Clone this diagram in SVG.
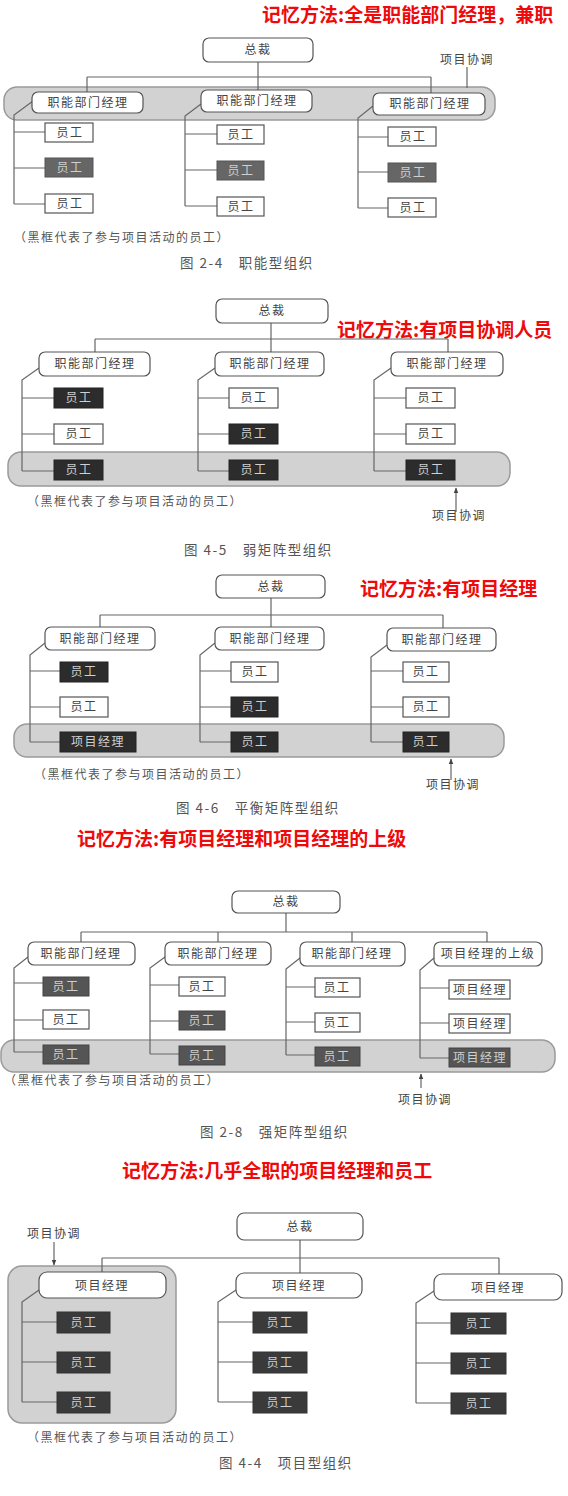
<svg xmlns="http://www.w3.org/2000/svg" width="568" height="1496" viewBox="0 0 568 1496">
<defs>
<style>
text{font-family:"Noto Sans CJK SC","Noto Sans",sans-serif;}
.lb{font-size:12px;fill:#444;text-anchor:middle;letter-spacing:1.5px;}
.lw{font-size:12px;fill:#d0d0d0;text-anchor:middle;letter-spacing:1.5px;}
.note{font-size:12px;fill:#555;letter-spacing:1.5px;}
.cap{font-size:13.5px;fill:#555;letter-spacing:1.5px;}
.red{font-size:19px;font-weight:bold;fill:#ee0a0a;}
.mg{fill:#fff;stroke:#555;stroke-width:1.2;}
.wb{fill:#fff;stroke:#555;stroke-width:1.2;}
.d1{fill:#666;stroke:#555;}
.d2{fill:#2c2c2c;stroke:#222;}
.d4{fill:#555;stroke:#444;}
.d5{fill:#3a3a3a;stroke:#333;}
.band{fill:#d2d2d2;stroke:#9a9a9a;stroke-width:1.5;}
.cn{fill:none;stroke:#666;stroke-width:1.2;}
</style>
<marker id="ah" viewBox="0 0 10 10" refX="9" refY="5" markerWidth="6" markerHeight="8" orient="auto" markerUnits="userSpaceOnUse">
<path d="M0,1 L10,5 L0,9 z" fill="#444"/>
</marker>
</defs>
<rect width="568" height="1496" fill="#fff"/>

<!-- ===== Diagram 1 ===== -->
<text class="red" x="262" y="22">记忆方法:全是职能部门经理，兼职</text>
<rect class="band" x="4" y="87" width="491" height="33" rx="13"/>
<g id="d1-connectors">
<path class="cn" d="M258 62 V90 M87 77 H431 M87 77 V92 M431 77 V93 M467 67 V88"/>
<path class="cn" d="M33 101 L14 115 V204 M14 132 H45 M14 168 H45 M14 204 H45"/>
<path class="cn" d="M201 104 L185 116 V206 M185 134 H217 M185 170 H217 M185 206 H217"/>
<path class="cn" d="M373 106 L358 118 V208 M358 137 H388 M358 172 H388 M358 208 H388"/>
</g>
<g id="d1-ceo"><rect class="mg" x="203" y="38" width="110" height="24" rx="6"/><text class="lb" x="258" y="54">总裁</text></g>
<g id="d1-coord"><text class="lb" x="467" y="64">项目协调</text></g>
<g id="d1-m1"><rect class="mg" x="32" y="92" width="111" height="21" rx="6"/><text class="lb" x="88" y="107">职能部门经理</text></g>
<g id="d1-m2"><rect class="mg" x="201" y="90" width="111" height="22" rx="6"/><text class="lb" x="257" y="105">职能部门经理</text></g>
<g id="d1-m3"><rect class="mg" x="373" y="93" width="112" height="22" rx="6"/><text class="lb" x="430" y="108">职能部门经理</text></g>
<g id="d1-s11"><rect class="wb" x="45" y="123" width="48" height="19"/><text class="lb" x="70" y="137">员工</text></g>
<g id="d1-s12"><rect class="d1" x="45" y="158" width="48" height="19"/><text class="lw" x="70" y="172">员工</text></g>
<g id="d1-s13"><rect class="wb" x="45" y="194" width="48" height="19"/><text class="lb" x="70" y="208">员工</text></g>
<g id="d1-s21"><rect class="wb" x="217" y="125" width="47" height="19"/><text class="lb" x="241" y="139">员工</text></g>
<g id="d1-s22"><rect class="d1" x="217" y="161" width="47" height="19"/><text class="lw" x="241" y="175">员工</text></g>
<g id="d1-s23"><rect class="wb" x="217" y="197" width="47" height="19"/><text class="lb" x="241" y="211">员工</text></g>
<g id="d1-s31"><rect class="wb" x="388" y="127" width="48" height="19"/><text class="lb" x="413" y="141">员工</text></g>
<g id="d1-s32"><rect class="d1" x="388" y="163" width="48" height="19"/><text class="lw" x="413" y="177">员工</text></g>
<g id="d1-s33"><rect class="wb" x="388" y="198" width="48" height="19"/><text class="lb" x="413" y="212">员工</text></g>
<text class="note" x="14" y="242">（黑框代表了参与项目活动的员工）</text>
<text class="cap" x="180" y="268">图 2-4　职能型组织</text>

<!-- ===== Diagram 2 ===== -->
<text class="red" x="337" y="337">记忆方法:有项目协调人员</text>
<rect class="band" x="8" y="452" width="502" height="34" rx="13"/>
<g id="d2-connectors">
<path class="cn" d="M271 323 V352 M95 339 H448 M95 339 V352 M448 339 V352"/>
<path class="cn" d="M39 368 L22 380 V471 M22 398 H54 M22 434 H54 M22 471 H54"/>
<path class="cn" d="M215 368 L198 380 V471 M198 398 H229 M198 434 H229 M198 471 H229"/>
<path class="cn" d="M391 368 L374 380 V471 M374 398 H406 M374 434 H406 M374 471 H406"/>
<line class="cn" x1="456" y1="512" x2="456" y2="488" marker-end="url(#ah)"/>
</g>
<g id="d2-ceo"><rect class="mg" x="216" y="299" width="112" height="24" rx="6"/><text class="lb" x="272" y="315">总裁</text></g>
<g id="d2-m1"><rect class="mg" x="39" y="352" width="111" height="24" rx="6"/><text class="lb" x="95" y="368">职能部门经理</text></g>
<g id="d2-m2"><rect class="mg" x="215" y="352" width="109" height="24" rx="6"/><text class="lb" x="270" y="368">职能部门经理</text></g>
<g id="d2-m3"><rect class="mg" x="391" y="352" width="112" height="24" rx="6"/><text class="lb" x="447" y="368">职能部门经理</text></g>
<g id="d2-s11"><rect class="d2" x="54" y="388" width="49" height="20"/><text class="lw" x="79" y="402">员工</text></g>
<g id="d2-s12"><rect class="wb" x="54" y="424" width="49" height="20"/><text class="lb" x="79" y="438">员工</text></g>
<g id="d2-s13"><rect class="d2" x="54" y="460" width="49" height="20"/><text class="lw" x="79" y="474">员工</text></g>
<g id="d2-s21"><rect class="wb" x="229" y="388" width="49" height="20"/><text class="lb" x="254" y="402">员工</text></g>
<g id="d2-s22"><rect class="d2" x="229" y="424" width="49" height="20"/><text class="lw" x="254" y="438">员工</text></g>
<g id="d2-s23"><rect class="d2" x="229" y="460" width="49" height="20"/><text class="lw" x="254" y="474">员工</text></g>
<g id="d2-s31"><rect class="wb" x="406" y="388" width="49" height="20"/><text class="lb" x="431" y="402">员工</text></g>
<g id="d2-s32"><rect class="wb" x="406" y="424" width="49" height="20"/><text class="lb" x="431" y="438">员工</text></g>
<g id="d2-s33"><rect class="d2" x="406" y="460" width="49" height="20"/><text class="lw" x="431" y="474">员工</text></g>
<g id="d2-coord"><text class="lb" x="459" y="520">项目协调</text></g>
<text class="note" x="27" y="506">（黑框代表了参与项目活动的员工）</text>
<text class="cap" x="184" y="555">图 4-5　弱矩阵型组织</text>

<!-- ===== Diagram 3 ===== -->
<text class="red" x="360" y="596">记忆方法:有项目经理</text>
<rect class="band" x="14" y="724" width="490" height="33" rx="13"/>
<g id="d3-connectors">
<path class="cn" d="M271 598 V627 M100 615 H443 M100 615 V627 M443 615 V628"/>
<path class="cn" d="M45 643 L30 655 V742 M30 671 H60 M30 707 H60 M30 742 H60"/>
<path class="cn" d="M215 643 L200 655 V742 M200 671 H231 M200 707 H231 M200 742 H231"/>
<path class="cn" d="M387 645 L371 657 V742 M371 671 H403 M371 707 H403 M371 742 H403"/>
<line class="cn" x1="451" y1="780" x2="451" y2="759" marker-end="url(#ah)"/>
</g>
<g id="d3-ceo"><rect class="mg" x="216" y="575" width="109" height="23" rx="6"/><text class="lb" x="271" y="591">总裁</text></g>
<g id="d3-m1"><rect class="mg" x="45" y="627" width="110" height="23" rx="6"/><text class="lb" x="100" y="643">职能部门经理</text></g>
<g id="d3-m2"><rect class="mg" x="215" y="627" width="109" height="23" rx="6"/><text class="lb" x="270" y="643">职能部门经理</text></g>
<g id="d3-m3"><rect class="mg" x="387" y="628" width="109" height="23" rx="6"/><text class="lb" x="442" y="644">职能部门经理</text></g>
<g id="d3-s11"><rect class="d2" x="60" y="662" width="48" height="20"/><text class="lw" x="84" y="676">员工</text></g>
<g id="d3-s12"><rect class="wb" x="60" y="697" width="48" height="20"/><text class="lb" x="84" y="711">员工</text></g>
<g id="d3-s13"><rect class="d2" x="60" y="732" width="76" height="20"/><text class="lw" x="98" y="746">项目经理</text></g>
<g id="d3-s21"><rect class="wb" x="231" y="662" width="47" height="20"/><text class="lb" x="255" y="676">员工</text></g>
<g id="d3-s22"><rect class="d2" x="231" y="697" width="47" height="20"/><text class="lw" x="255" y="711">员工</text></g>
<g id="d3-s23"><rect class="d2" x="231" y="732" width="47" height="20"/><text class="lw" x="255" y="746">员工</text></g>
<g id="d3-s31"><rect class="wb" x="403" y="662" width="46" height="20"/><text class="lb" x="426" y="676">员工</text></g>
<g id="d3-s32"><rect class="wb" x="403" y="697" width="46" height="20"/><text class="lb" x="426" y="711">员工</text></g>
<g id="d3-s33"><rect class="d2" x="403" y="732" width="46" height="20"/><text class="lw" x="426" y="746">员工</text></g>
<g id="d3-coord"><text class="lb" x="453" y="789">项目协调</text></g>
<text class="note" x="34" y="779">（黑框代表了参与项目活动的员工）</text>
<text class="cap" x="176" y="813">图 4-6　平衡矩阵型组织</text>

<!-- ===== Diagram 4 ===== -->
<text class="red" x="77" y="846">记忆方法:有项目经理和项目经理的上级</text>
<rect class="band" x="1" y="1040" width="554" height="32" rx="13"/>
<g id="d4-connectors">
<path class="cn" d="M286 913 V932 M81 932 H487 M81 932 V942 M218 932 V942 M352 932 V942 M487 932 V942"/>
<path class="cn" d="M28 957 L14 968 V1052 M14 983 H43 M14 1020 H43 M14 1052 H43"/>
<path class="cn" d="M165 957 L150 968 V1054 M150 985 H179 M150 1021 H179 M150 1054 H179"/>
<path class="cn" d="M300 958 L286 969 V1055 M286 987 H315 M286 1022 H315 M286 1055 H315"/>
<path class="cn" d="M434 958 L420 970 V1058 M420 988 H449 M420 1023 H449 M420 1058 H449"/>
<line class="cn" x1="421" y1="1088" x2="421" y2="1074" marker-end="url(#ah)"/>
</g>
<g id="d4-ceo"><rect class="mg" x="232" y="891" width="108" height="22" rx="6"/><text class="lb" x="286" y="906">总裁</text></g>
<g id="d4-m1"><rect class="mg" x="28" y="942" width="107" height="23" rx="6"/><text class="lb" x="81" y="958">职能部门经理</text></g>
<g id="d4-m2"><rect class="mg" x="165" y="942" width="106" height="23" rx="6"/><text class="lb" x="218" y="958">职能部门经理</text></g>
<g id="d4-m3"><rect class="mg" x="300" y="942" width="105" height="24" rx="6"/><text class="lb" x="352" y="958">职能部门经理</text></g>
<g id="d4-m4"><rect class="mg" x="434" y="942" width="108" height="24" rx="6"/><text class="lb" x="488" y="958">项目经理的上级</text></g>
<g id="d4-s11"><rect class="d4" x="43" y="977" width="46" height="19"/><text class="lw" x="66" y="991">员工</text></g>
<g id="d4-s12"><rect class="wb" x="43" y="1010" width="46" height="19"/><text class="lb" x="66" y="1024">员工</text></g>
<g id="d4-s13"><rect class="d4" x="43" y="1045" width="46" height="19"/><text class="lw" x="66" y="1059">员工</text></g>
<g id="d4-s21"><rect class="wb" x="179" y="977" width="46" height="19"/><text class="lb" x="202" y="991">员工</text></g>
<g id="d4-s22"><rect class="d4" x="179" y="1011" width="46" height="19"/><text class="lw" x="202" y="1025">员工</text></g>
<g id="d4-s23"><rect class="d4" x="179" y="1046" width="46" height="19"/><text class="lw" x="202" y="1060">员工</text></g>
<g id="d4-s31"><rect class="wb" x="315" y="978" width="45" height="19"/><text class="lb" x="337" y="992">员工</text></g>
<g id="d4-s32"><rect class="wb" x="315" y="1013" width="45" height="19"/><text class="lb" x="337" y="1027">员工</text></g>
<g id="d4-s33"><rect class="d4" x="315" y="1047" width="45" height="19"/><text class="lw" x="337" y="1061">员工</text></g>
<g id="d4-s41"><rect class="wb" x="449" y="980" width="61" height="19"/><text class="lb" x="480" y="994">项目经理</text></g>
<g id="d4-s42"><rect class="wb" x="449" y="1014" width="61" height="19"/><text class="lb" x="480" y="1028">项目经理</text></g>
<g id="d4-s43"><rect class="d4" x="449" y="1048" width="61" height="19"/><text class="lw" x="480" y="1062">项目经理</text></g>
<g id="d4-coord"><text class="lb" x="425" y="1104">项目协调</text></g>
<text class="note" x="4" y="1085">（黑框代表了参与项目活动的员工）</text>
<text class="cap" x="200" y="1137">图 2-8　强矩阵型组织</text>

<!-- ===== Diagram 5 ===== -->
<text class="red" x="122" y="1178">记忆方法:几乎全职的项目经理和员工</text>
<rect class="band" x="8" y="1266" width="168" height="157" rx="14"/>
<g id="d5-connectors">
<path class="cn" d="M300 1240 V1273 M102 1258 H499 M102 1258 V1272 M499 1258 V1274"/>
<path class="cn" d="M39 1290 L22 1302 V1402 M22 1322 H57 M22 1362 H57 M22 1402 H57"/>
<path class="cn" d="M236 1290 L218 1302 V1402 M218 1322 H253 M218 1362 H253 M218 1402 H253"/>
<path class="cn" d="M434 1291 L416 1303 V1403 M416 1323 H451 M416 1363 H451 M416 1403 H451"/>
<line class="cn" x1="54" y1="1242" x2="54" y2="1265" marker-end="url(#ah)"/>
</g>
<g id="d5-coord"><text class="lb" x="54" y="1238">项目协调</text></g>
<g id="d5-ceo"><rect class="mg" x="237" y="1213" width="126" height="27" rx="7"/><text class="lb" x="300" y="1231">总裁</text></g>
<g id="d5-p1"><rect class="mg" x="39" y="1272" width="127" height="26" rx="8"/><text class="lb" x="102" y="1290">项目经理</text></g>
<g id="d5-p2"><rect class="mg" x="236" y="1273" width="126" height="25" rx="8"/><text class="lb" x="299" y="1290">项目经理</text></g>
<g id="d5-p3"><rect class="mg" x="434" y="1274" width="128" height="26" rx="8"/><text class="lb" x="498" y="1292">项目经理</text></g>
<g id="d5-s11"><rect class="d5" x="57" y="1312" width="53" height="21"/><text class="lw" x="84" y="1327">员工</text></g>
<g id="d5-s12"><rect class="d5" x="57" y="1352" width="53" height="21"/><text class="lw" x="84" y="1367">员工</text></g>
<g id="d5-s13"><rect class="d5" x="57" y="1392" width="53" height="21"/><text class="lw" x="84" y="1407">员工</text></g>
<g id="d5-s21"><rect class="d5" x="253" y="1312" width="54" height="21"/><text class="lw" x="280" y="1327">员工</text></g>
<g id="d5-s22"><rect class="d5" x="253" y="1352" width="54" height="21"/><text class="lw" x="280" y="1367">员工</text></g>
<g id="d5-s23"><rect class="d5" x="253" y="1392" width="54" height="21"/><text class="lw" x="280" y="1407">员工</text></g>
<g id="d5-s31"><rect class="d5" x="451" y="1313" width="55" height="21"/><text class="lw" x="479" y="1328">员工</text></g>
<g id="d5-s32"><rect class="d5" x="451" y="1353" width="55" height="21"/><text class="lw" x="479" y="1368">员工</text></g>
<g id="d5-s33"><rect class="d5" x="451" y="1393" width="55" height="21"/><text class="lw" x="479" y="1408">员工</text></g>
<text class="note" x="27" y="1442">（黑框代表了参与项目活动的员工）</text>
<text class="cap" x="219" y="1468">图 4-4　项目型组织</text>
</svg>
